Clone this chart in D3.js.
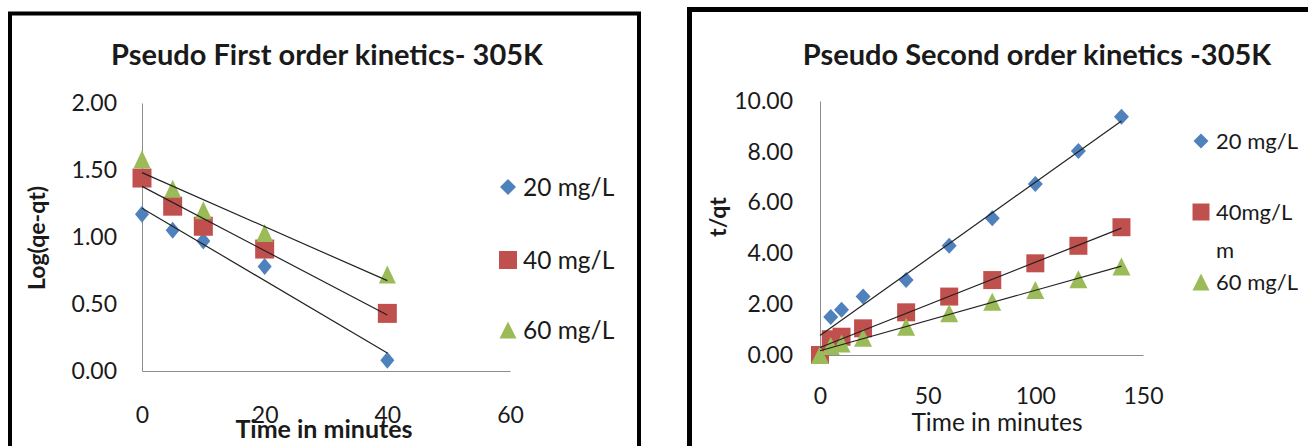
<!DOCTYPE html>
<html>
<head>
<meta charset="utf-8">
<script src="https://cdn.jsdelivr.net/npm/d3@7"></script>
<style>
  body { margin: 0; background: #fff; }
  svg { display: block; }
  text { font-family: Lato, "Open Sans", sans-serif; fill: #1a1a1a; }
</style>
</head>
<body>
<svg id="chart" width="1308" height="446"></svg>
<script>
// Series shared by both panels
const seriesNames = ["20 mg/L", "40 mg/L", "60 mg/L"];
const secondOrderLegend = ["20 mg/L", "40mg/L\nm", "60 mg/L"];
const seriesColors = ["#4F81BD", "#C0504D", "#9BBB59"];
const seriesShapes = ["diamond", "square", "triangle"];

// Pseudo first order: log(qe - qt) against time (min)
const firstOrderTime = [0, 5, 10, 20, 40];
const firstOrder20 = [1.17, 1.05, 0.97, 0.78, 0.08];
const firstOrder40 = [1.44, 1.23, 1.08, 0.91, 0.43];
const firstOrder60 = [1.58, 1.36, 1.20, 1.03, 0.72];
const firstOrderXTicks = [0, 20, 40, 60];
const firstOrderYTicks = [0, 0.5, 1, 1.5, 2];

// Pseudo second order: t/qt against time (min)
const secondOrderTime = [0, 5, 10, 20, 40, 60, 80, 100, 120, 140];
const secondOrder20 = [0, 1.50, 1.78, 2.30, 2.95, 4.30, 5.38, 6.73, 8.03, 9.38];
const secondOrder40 = [0, 0.62, 0.72, 1.05, 1.68, 2.30, 2.95, 3.61, 4.30, 5.03];
const secondOrder60 = [0, 0.35, 0.45, 0.68, 1.11, 1.64, 2.10, 2.56, 2.98, 3.48];
const secondOrderXTicks = [0, 50, 100, 150];
const secondOrderYTicks = [0, 2, 4, 6, 8, 10];

const svg = d3.select("#chart");

// Marker path generators (half width w, half height h)
function markerPath(shape, w, h) {
  const p = d3.path();
  if (shape === "diamond") {
    p.moveTo(0, -h); p.lineTo(w, 0); p.lineTo(0, h); p.lineTo(-w, 0); p.closePath();
  } else if (shape === "square") {
    p.rect(-w, -h, 2 * w, 2 * h);
  } else {
    p.moveTo(0, -h); p.lineTo(w, h); p.lineTo(-w, h); p.closePath();
  }
  return p.toString();
}

// Least-squares linear trendline
function fitLine(xs, ys) {
  const mx = d3.mean(xs), my = d3.mean(ys);
  let sxy = 0, sxx = 0;
  xs.forEach((x, i) => { sxy += (x - mx) * (ys[i] - my); sxx += (x - mx) * (x - mx); });
  const slope = sxy / sxx;
  return { slope, intercept: my - slope * mx };
}

function drawPanel(cfg) {
  const g = svg.append("g");

  // outer frame
  g.append("rect")
    .attr("x", cfg.frame[0]).attr("y", cfg.frame[1])
    .attr("width", cfg.frame[2]).attr("height", cfg.frame[3])
    .attr("fill", "none").attr("stroke", "#000").attr("stroke-width", cfg.frameWidth);

  const x = d3.scaleLinear().domain(cfg.xDomain).range(cfg.xRange);
  const y = d3.scaleLinear().domain(cfg.yDomain).range(cfg.yRange);

  // title
  g.append("text")
    .attr("x", cfg.titlePos[0]).attr("y", cfg.titlePos[1])
    .attr("text-anchor", "middle")
    .style("font-size", cfg.titleSize + "px").style("font-weight", 700)
    .text(cfg.title);

  // y axis
  const yAxis = g.append("g")
    .attr("transform", `translate(${cfg.xRange[0]},0)`)
    .call(d3.axisLeft(y).tickValues(cfg.yTicks).tickFormat(d3.format(".2f"))
      .tickSize(0).tickPadding(cfg.yTickPad));
  yAxis.select(".domain").attr("stroke", "#8c8c8c").attr("stroke-width", 1);
  yAxis.selectAll("text").style("font-size", cfg.tickSize + "px")
    .attr("fill", "#1a1a1a").style("font-family", "Lato, 'Open Sans', sans-serif");

  // x axis
  const xAxis = g.append("g")
    .attr("transform", `translate(0,${cfg.yRange[0]})`)
    .call(d3.axisBottom(x).tickValues(cfg.xTicks).tickFormat(d3.format("d"))
      .tickSize(0).tickPadding(0));
  xAxis.select(".domain").attr("stroke", "#8c8c8c").attr("stroke-width", 1);
  xAxis.selectAll("text").style("font-size", cfg.tickSize + "px")
    .attr("fill", "#1a1a1a").style("font-family", "Lato, 'Open Sans', sans-serif")
    .attr("y", cfg.xTickBaseline - cfg.yRange[0]).attr("dy", null);

  // axis titles
  g.append("text")
    .attr("x", cfg.xTitlePos[0]).attr("y", cfg.xTitlePos[1])
    .attr("text-anchor", "middle")
    .style("font-size", cfg.xTitleSize + "px").style("font-weight", cfg.xTitleWeight)
    .text("Time in minutes");
  g.append("text")
    .attr("transform", `translate(${cfg.yTitlePos[0]},${cfg.yTitlePos[1]}) rotate(-90)`)
    .attr("text-anchor", "middle").attr("dy", "0.36em")
    .style("font-size", cfg.yTitleSize + "px").style("font-weight", 700)
    .text(cfg.yTitle);

  // markers
  cfg.series.forEach((vals, si) => {
    const [w, h] = cfg.markerSize[si];
    g.append("g").selectAll("path")
      .data(vals.map((v, i) => [cfg.time[i], v]))
      .join("path")
      .attr("d", markerPath(seriesShapes[si], w, h))
      .attr("transform", d => `translate(${x(d[0])},${y(d[1])})`)
      .attr("fill", seriesColors[si]);
  });

  // linear trendlines
  cfg.series.forEach(vals => {
    const fit = fitLine(cfg.time, vals);
    const x0 = d3.min(cfg.time), x1 = d3.max(cfg.time);
    g.append("line")
      .attr("x1", x(x0)).attr("y1", y(fit.intercept + fit.slope * x0))
      .attr("x2", x(x1)).attr("y2", y(fit.intercept + fit.slope * x1))
      .attr("stroke", "#222").attr("stroke-width", 1.2);
  });

  // legend
  cfg.legendLabels.forEach((label, si) => {
    const ly = cfg.legendY[si];
    const [w, h] = cfg.legendMarker[si];
    g.append("path")
      .attr("d", markerPath(seriesShapes[si], w, h))
      .attr("transform", `translate(${cfg.legendX},${ly})`)
      .attr("fill", seriesColors[si]);
    const t = g.append("text")
      .attr("x", cfg.legendX + cfg.legendGap).attr("y", ly)
      .style("font-size", cfg.legendSize + "px");
    label.split("\n").forEach((line, li) => {
      t.append("tspan").attr("x", cfg.legendX + cfg.legendGap)
        .attr("dy", li ? cfg.legendLineHeight : "0.36em").text(line);
    });
  });
}

drawPanel({
  frame: [10, 13.5, 629, 460], frameWidth: 4,
  title: "Pseudo First order kinetics- 305K", titlePos: [327, 65], titleSize: 29,
  xDomain: [0, 60], xRange: [142, 510],
  yDomain: [0, 2], yRange: [371, 103],
  xTicks: firstOrderXTicks, yTicks: firstOrderYTicks,
  tickSize: 23, yTickPad: 25, xTickBaseline: 423,
  xTitlePos: [324, 438], xTitleSize: 25, xTitleWeight: 700,
  yTitle: "Log(qe-qt)", yTitlePos: [37, 238], yTitleSize: 23,
  time: firstOrderTime, series: [firstOrder20, firstOrder40, firstOrder60],
  markerSize: [[7, 8.5], [9.5, 9.5], [8.5, 9]],
  legendLabels: seriesNames, legendX: 508, legendGap: 15,
  legendY: [187, 260, 330], legendSize: 24.5,
  legendMarker: [[8, 8], [9, 9], [8.5, 8.5]], legendLineHeight: 0
});

drawPanel({
  frame: [689.5, 9.5, 700, 470], frameWidth: 5,
  title: "Pseudo Second order kinetics -305K", titlePos: [1037, 65], titleSize: 29,
  xDomain: [0, 150], xRange: [820, 1143],
  yDomain: [0, 10], yRange: [355, 101],
  xTicks: secondOrderXTicks, yTicks: secondOrderYTicks,
  tickSize: 23, yTickPad: 27, xTickBaseline: 404,
  xTitlePos: [997, 431], xTitleSize: 24.5, xTitleWeight: 400,
  yTitle: "t/qt", yTitlePos: [718, 217], yTitleSize: 23,
  time: secondOrderTime, series: [secondOrder20, secondOrder40, secondOrder60],
  markerSize: [[7.5, 8], [9, 9], [9, 9]],
  legendLabels: secondOrderLegend, legendX: 1201, legendGap: 15,
  legendY: [141, 212, 282], legendSize: 22,
  legendMarker: [[7.5, 7.5], [8.5, 8.5], [8.5, 8.5]], legendLineHeight: 38
});
</script>
</body>
</html>
